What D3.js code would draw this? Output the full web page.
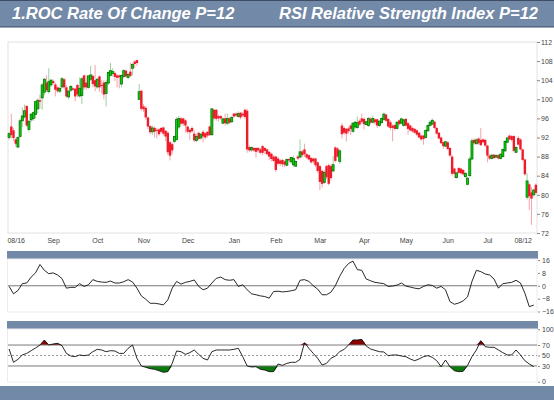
<!DOCTYPE html>
<html><head><meta charset="utf-8">
<script src="https://cdn.jsdelivr.net/npm/d3@7/dist/d3.min.js"></script>
<style>
body{margin:0;background:#fff;}
svg{display:block;font-family:"Liberation Sans",Arial,sans-serif;}
</style></head>
<body><svg id="c" width="554" height="400"></svg>
<script>
const titles = ["1.ROC Rate Of Change P=12", "RSI Relative Strength Index P=12"];

const opens = [92.0,94.3,93.5,91.6,90.0,92.2,95.5,96.3,98.6,93.7,95.7,96.0,96.8,98.0,99.8,100.3,101.5,103.5,101.6,103.0,
103.8,103.1,102.5,101.7,102.6,104.2,102.5,100.5,101.9,102.3,102.2,103.0,100.7,100.8,105.0,103.5,102.5,104.2,104.9,104.0,
102.6,104.8,103.0,103.5,101.2,103.4,105.0,105.4,105.5,105.0,105.0,103.2,104.8,106.0,104.6,105.8,106.5,107.9,108.2,100.0,
101.8,98.5,98.2,96.2,94.4,93.2,94.0,93.6,93.7,94.0,94.1,93.4,93.0,91.0,90.6,91.2,91.6,94.2,96.0,96.0,
95.6,94.3,93.6,94.0,92.8,91.4,93.0,91.9,93.2,92.9,93.2,94.3,92.6,97.8,97.8,96.5,96.5,95.0,96.0,95.0,
96.0,95.3,97.0,97.0,96.4,97.2,97.0,97.8,97.6,90.0,89.4,89.8,89.8,89.8,89.5,90.2,89.8,89.5,89.0,88.6,
88.0,88.0,87.6,87.2,87.3,87.0,86.2,87.5,86.9,86.3,86.0,88.0,87.9,89.1,89.5,88.5,88.3,87.7,87.6,87.6,
86.8,86.0,85.0,82.6,86.0,86.2,86.0,85.0,89.9,89.7,87.0,94.5,94.0,93.8,93.9,94.5,93.3,94.2,94.1,95.5,
96.0,95.9,94.7,94.5,95.9,95.2,95.8,95.8,94.5,95.1,95.8,96.8,95.9,95.2,94.5,94.6,93.9,95.6,95.0,94.5,
95.9,95.0,94.5,94.0,93.8,93.5,93.0,92.4,92.4,92.0,93.4,94.5,94.8,95.3,94.0,93.0,92.0,91.0,90.2,91.0,
89.8,88.0,85.5,83.6,85.6,85.5,85.2,83.8,82.2,84.0,87.5,91.5,90.7,91.8,91.5,91.6,91.5,90.3,88.2,87.6,
88.4,87.9,88.3,87.6,88.0,89.2,91.0,92.4,92.3,92.3,88.9,91.9,91.6,89.5,87.4,79.5,82.2,80.5,80.0,82.1];

const highs = [93.2,97.0,94.0,92.0,92.2,96.0,98.3,98.9,98.8,95.6,97.0,97.5,99.7,100.2,101.0,103.4,104.5,105.0,106.5,104.3,
104.2,103.5,102.7,102.6,104.7,104.4,103.0,102.0,103.0,102.5,102.4,103.2,104.6,104.6,105.2,105.0,105.0,107.0,105.2,107.2,
104.5,105.0,104.0,104.0,104.0,105.9,107.6,106.5,105.8,105.3,105.2,105.2,106.3,106.2,105.5,107.7,107.6,108.2,108.3,103.2,
102.0,99.0,98.6,96.4,94.6,94.5,94.3,94.0,94.0,94.2,94.3,93.6,93.3,91.3,91.0,92.4,96.3,96.5,96.3,96.1,
95.8,94.5,93.9,94.3,93.5,92.8,93.2,93.0,93.5,93.1,93.3,94.5,98.2,98.0,98.0,96.8,96.7,96.2,97.0,97.0,
96.3,96.5,97.2,97.3,97.5,97.3,97.3,98.1,98.0,90.3,90.1,90.1,90.0,90.0,89.8,90.4,90.0,89.7,89.2,88.8,
88.3,88.2,88.0,87.5,87.5,87.2,87.6,87.7,88.0,88.2,87.2,88.3,91.6,89.4,90.7,88.8,88.5,88.0,87.8,87.8,
87.0,86.3,85.3,85.2,86.3,86.5,86.4,88.1,90.2,90.0,89.5,95.0,94.3,94.0,94.2,94.8,95.2,95.5,96.4,95.8,
97.0,96.2,95.5,96.3,96.3,96.6,96.0,96.0,95.6,96.2,97.2,97.0,96.0,95.6,94.8,94.8,95.4,95.8,96.2,95.9,
96.1,95.2,94.7,94.2,94.0,93.7,93.2,92.6,92.6,93.7,94.8,95.6,96.0,95.5,94.2,93.2,92.2,91.2,91.3,91.2,
90.0,88.3,85.7,84.8,85.8,85.7,85.4,84.7,83.7,88.0,91.8,91.8,91.8,92.0,94.0,91.8,91.7,90.5,88.5,88.6,
88.6,88.5,88.5,88.7,89.7,91.4,92.2,92.6,92.5,92.5,90.2,92.3,91.8,89.7,87.6,84.5,82.5,81.6,81.3,82.4];

const lows = [91.5,91.8,91.3,90.1,89.8,92.0,94.2,96.0,94.2,93.2,95.2,95.5,96.0,97.0,98.0,97.8,100.8,101.5,101.2,102.6,
103.0,100.6,101.3,101.3,102.3,102.0,100.3,100.0,101.5,101.8,99.6,100.5,100.3,99.0,102.0,102.0,102.2,103.8,102.5,101.7,
102.2,101.6,101.2,100.0,98.5,103.0,104.8,104.8,103.8,102.5,102.3,102.5,104.4,104.5,104.2,104.7,105.0,106.5,107.0,99.8,
97.5,97.3,95.7,93.8,92.6,92.5,92.0,91.8,92.3,92.9,92.4,91.2,88.3,87.2,88.5,90.8,91.3,93.7,94.5,94.4,
93.0,92.8,91.5,93.0,91.0,91.0,91.4,91.5,91.0,91.6,92.0,92.3,92.3,95.6,95.5,95.3,95.7,94.8,94.5,94.6,
94.8,95.0,96.2,96.3,96.2,95.8,96.2,95.8,88.8,88.9,89.0,89.0,87.8,88.8,88.5,88.3,88.6,88.2,87.3,87.0,
86.9,84.8,86.2,86.0,85.8,85.8,86.0,86.8,86.5,85.8,85.8,87.3,87.6,87.8,87.9,87.5,87.2,86.5,86.5,85.8,
84.6,81.0,81.5,82.3,83.3,82.0,83.0,84.7,86.8,87.8,86.5,91.8,92.5,91.2,92.8,92.5,93.0,93.8,93.8,94.5,
94.9,93.7,94.5,94.2,94.8,94.9,94.6,94.0,94.2,94.9,95.5,95.3,94.0,93.5,91.2,93.5,93.7,94.5,94.8,94.3,
94.3,92.6,93.2,93.0,92.8,92.3,91.8,91.3,90.5,91.8,93.2,94.3,94.6,93.8,92.6,91.6,90.6,89.6,90.0,89.4,
88.0,84.0,83.5,83.4,84.4,84.2,84.0,83.6,82.0,83.8,87.2,90.5,90.5,90.5,90.2,90.7,90.0,86.8,87.3,87.4,
87.5,87.7,87.4,87.4,87.8,89.0,90.8,91.4,91.2,89.0,88.7,90.3,89.3,87.0,84.0,79.0,76.8,73.7,79.6,80.0];

const closes = [92.8,92.5,91.9,90.7,92.0,95.5,96.5,97.6,94.5,95.4,96.9,97.2,99.5,99.8,99.5,103.0,104.2,101.9,103.7,104.0,
103.4,102.0,101.7,102.3,104.3,102.5,100.6,101.7,102.7,102.0,100.6,101.0,102.3,104.3,102.5,102.5,104.9,105.1,103.2,102.7,
104.2,102.5,102.8,101.0,103.5,105.6,106.0,105.8,104.7,104.5,104.6,105.0,106.0,104.8,105.2,104.9,107.3,107.4,107.6,101.6,
98.0,97.9,96.2,94.3,93.1,94.0,93.2,93.4,92.7,93.2,92.8,92.2,88.9,88.2,89.3,92.2,95.8,96.0,94.9,94.9,
94.5,93.2,93.1,93.3,91.4,92.2,91.7,92.7,92.2,92.0,92.4,92.5,98.0,96.0,95.9,96.0,96.0,95.9,95.0,96.0,
95.1,96.2,96.4,96.6,97.0,96.2,96.6,96.3,89.5,89.3,89.9,89.3,89.0,89.3,88.8,88.8,89.2,88.5,88.0,87.5,
87.1,85.2,86.5,86.5,86.4,86.3,87.4,87.2,87.8,87.6,87.0,87.6,89.0,88.3,88.5,87.8,87.4,86.8,87.0,86.2,
85.0,82.7,82.3,84.7,83.7,82.3,83.5,86.3,87.1,88.0,89.2,92.7,93.0,92.8,93.3,93.8,95.0,95.2,95.1,94.7,
95.3,94.8,95.3,96.0,95.1,96.0,95.2,94.5,95.4,96.0,96.9,95.5,94.3,94.0,94.0,93.8,95.2,94.8,95.9,95.7,
94.5,93.8,93.5,93.3,93.0,92.6,92.0,91.6,91.7,93.5,94.5,95.2,95.6,94.0,92.8,91.8,90.8,90.2,91.1,89.6,
88.2,84.4,84.4,84.6,84.6,84.5,84.3,84.5,83.5,87.5,91.3,90.8,91.5,90.8,90.4,91.0,90.3,88.2,87.6,88.3,
87.7,88.2,87.6,88.5,89.5,91.2,91.9,91.6,91.5,89.2,89.9,90.5,89.5,87.3,84.3,82.9,79.7,79.2,81.0,80.4];

// ROC(12) and RSI(12) at every second trading day (bars 0,2,4,...)
const rocValues = [-0.4,-5,-3,1.3,1.7,5.4,8,13.2,9.6,7.5,8,6.7,4.4,-1.5,-1,-1,1.3,-0.4,0.6,3.8,
2.7,2.3,2.1,2.9,1.7,1.7,2.5,3.8,2.3,-1.5,-6.3,-8.4,-10.9,-10.9,-11.3,-11.9,-8.8,-1.5,2.7,1,
2.1,2.7,3.6,-0.4,-2.5,-1.5,1.7,4.6,5.4,3.8,3.4,3.8,-0.4,0.6,-2.5,-5,-5.6,-6.3,-6.7,-7.7,
-3.6,-3.4,-3.8,-3.6,-3.1,-2.5,3.4,3.8,2.7,0,-2.1,-5.6,-5.6,-4,0,5.9,10.7,13.8,15.3,10,
9.6,4.2,3.1,2.1,1.7,1.3,-0.4,-0.2,0.4,1.7,-0.2,-0.8,-1.5,-1.9,-0.4,0.6,0.2,-1.5,-0.4,-2.5,
-9.8,-11.5,-10.7,-9.4,-6.9,2.7,9.6,8.8,7.3,6.7,4.2,-1.5,1.3,1.7,2.1,3.4,1.7,-4.6,-13,-12];

const rsiValues = [62.4,37,42.7,51,54,59.2,64.3,70,79.6,70,72,73.2,68.7,54,49,47.8,51,49.7,51,57.3,
61.8,60.5,57.3,59.2,58.6,54,54,63.7,70,44.6,30,27.4,24.9,23.6,21,17.9,19.2,35,58.6,57.3,
52.2,55.4,60.5,52.2,44.6,41.4,57.3,60.5,60.5,60.5,60.5,61.8,63.7,47.8,30,28,28.7,23.6,22.3,19.2,
19.2,33.8,31.2,35,37,37,42.7,74.5,63.7,54,44.6,31.9,35,44.6,49,57.3,61.8,70,79.6,79.6,
80.8,68.1,62.4,59.8,57.3,56.7,49.7,51,51,49,47.8,43.3,40.1,43.3,47.8,49.7,46.5,40.1,28.7,41.4,
28.7,21,19.2,19.8,31.2,47.8,60.5,78.3,66.8,65.6,65.6,60.5,55.4,51,51,60.5,51,40.1,33.8,29];

const tickLabels = ["08/16","Sep","Oct","Nov","Dec","Jan","Feb","Mar","Apr","May","Jun","Jul","08/12"];
const tickBars   = [3,20,40,61,81,102,121,141,161,180,199,217,233];
const priceTicks = [72,76,80,84,88,92,96,100,104,108,112];
const rocTicks = [-16,-8,0,8,16];
const rsiTicks = [0,30,50,70,100];
const rsiLevels = [70,50,30];

const svg = d3.select("#c");
const BAND = "#7389a8";
const N = closes.length;
const L = 8, R = 537;

// header
svg.append("rect").attr("x",0).attr("y",0).attr("width",554).attr("height",27).attr("fill",BAND);
svg.append("line").attr("x1",0).attr("x2",554).attr("y1",0.5).attr("y2",0.5).attr("stroke","#3d4d66");
svg.append("line").attr("x1",0).attr("x2",554).attr("y1",27).attr("y2",27).attr("stroke","#3d4d66").attr("stroke-width",1.2);
const titleX = [12, 279];
titles.forEach((t,k)=>{
  svg.append("text").attr("x",titleX[k]).attr("y",19).text(t)
    .attr("fill","#fff").attr("font-weight","bold").attr("font-style","italic").attr("font-size","16.5px");
});

const x = d3.scaleBand().domain(d3.range(N)).range([L,R]);
const bw = x.bandwidth();
const cx = i => x(i) + bw/2;

// ---------- price panel ----------
const yP = d3.scaleLinear().domain([72,112]).range([233,42]);
svg.append("rect").attr("x",L).attr("y",42).attr("width",R-L).attr("height",191)
  .attr("fill","#fff").attr("stroke","#e2e2e2");

const axisFont = g => g.selectAll("text").attr("font-size","7px").attr("fill","#444")
  .attr("font-family","'Liberation Sans',Arial,sans-serif");

const yAxisP = svg.append("g").attr("transform",`translate(${R},0)`)
  .call(d3.axisRight(yP).tickValues(priceTicks).tickSize(3).tickPadding(1));
yAxisP.select(".domain").remove();
yAxisP.selectAll("line").attr("stroke","#888");
axisFont(yAxisP);

const xAxis = svg.append("g").attr("transform",`translate(0,233)`)
  .call(d3.axisBottom(d3.scaleLinear().domain([0,N]).range([L,R]))
    .tickValues(tickBars.map(b=>b+0.5)).tickFormat((d,i)=>tickLabels[i]).tickSize(0).tickPadding(5));
xAxis.select(".domain").remove();
axisFont(xAxis);

const candles = svg.append("g");
d3.range(N).forEach(i=>{
  const up = closes[i] >= opens[i];
  candles.append("line").attr("x1",cx(i)).attr("x2",cx(i))
    .attr("y1",yP(highs[i])).attr("y2",yP(lows[i]))
    .attr("stroke", up ? "#9fcf9f" : "#f5a3aa").attr("stroke-width",1);
});
d3.range(N).forEach(i=>{
  const up = closes[i] >= opens[i];
  const top = yP(Math.max(opens[i],closes[i])), bot = yP(Math.min(opens[i],closes[i]));
  const h = Math.max(1, bot-top);
  if (up) {
    candles.append("rect").attr("x",cx(i)-1).attr("y",top).attr("width",2).attr("height",h)
      .attr("fill","#00dd00").attr("stroke","#0a6e0a").attr("stroke-width",0.8);
  } else {
    candles.append("rect").attr("x",cx(i)-1.2).attr("y",top).attr("width",2.4).attr("height",h)
      .attr("fill","#ee1c2a");
  }
});

// ---------- ROC panel ----------
svg.append("rect").attr("x",7).attr("y",251).attr("width",R+1-7).attr("height",8).attr("fill",BAND);
svg.append("rect").attr("x",7.5).attr("y",259).attr("width",R-7.5).attr("height",53)
  .attr("fill","#fff").attr("stroke","#ececec");
const yR = d3.scaleLinear().domain([-16,16]).range([311.5,260]);
svg.append("line").attr("x1",L).attr("x2",R).attr("y1",yR(0)).attr("y2",yR(0)).attr("stroke","#7a7a7a");
const yAxisR = svg.append("g").attr("transform",`translate(${R+1},0)`)
  .call(d3.axisRight(yR).tickValues(rocTicks).tickSize(2).tickPadding(2));
yAxisR.select(".domain").remove();
yAxisR.selectAll("line").attr("stroke","#888");
axisFont(yAxisR);
const rocPts = rocValues.map((v,k)=>[cx(2*k), yR(v)]);
svg.append("path").attr("d", d3.line()(rocPts)).attr("fill","none")
  .attr("stroke","#111").attr("stroke-width",0.9);

// ---------- RSI panel ----------
svg.append("rect").attr("x",7).attr("y",321).attr("width",R+1-7).attr("height",8).attr("fill",BAND);
svg.append("rect").attr("x",7.5).attr("y",329).attr("width",R-7.5).attr("height",53)
  .attr("fill","#fff").attr("stroke","#ececec");
const yS = d3.scaleLinear().domain([0,100]).range([381.7,329.3]);
const rsiPts = rsiValues.map((v,k)=>({x:cx(2*k), v}));
svg.append("path").attr("d", d3.area().x(d=>d.x).y0(yS(70)).y1(d=>yS(Math.max(70,d.v)))(rsiPts))
  .attr("fill","#8b0000");
svg.append("path").attr("d", d3.area().x(d=>d.x).y0(yS(30)).y1(d=>yS(Math.min(30,d.v)))(rsiPts))
  .attr("fill","#0b7a0b");
rsiLevels.forEach(lv=>{
  svg.append("line").attr("x1",L).attr("x2",R).attr("y1",yS(lv)).attr("y2",yS(lv))
    .attr("stroke", lv===50 ? "#999" : "#7a7a7a")
    .attr("stroke-dasharray", lv===50 ? "2,2" : null);
});
const yAxisS = svg.append("g").attr("transform",`translate(${R+1},0)`)
  .call(d3.axisRight(yS).tickValues(rsiTicks).tickSize(2).tickPadding(2));
yAxisS.select(".domain").remove();
yAxisS.selectAll("line").attr("stroke","#888");
axisFont(yAxisS);
svg.append("path").attr("d", d3.line().x(d=>d.x).y(d=>yS(d.v))(rsiPts)).attr("fill","none")
  .attr("stroke","#111").attr("stroke-width",0.9);

// bottom band
svg.append("rect").attr("x",0).attr("y",386).attr("width",554).attr("height",14).attr("fill",BAND);
</script></body></html>
